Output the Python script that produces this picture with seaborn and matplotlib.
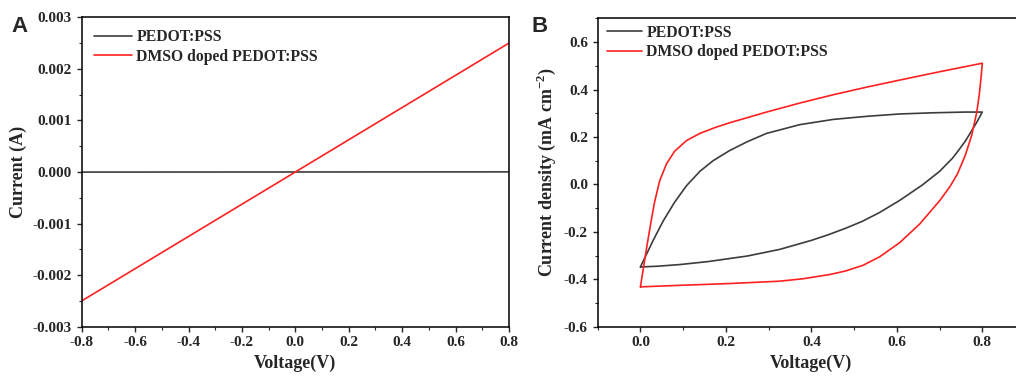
import numpy as np
import pandas as pd
import seaborn as sns
import matplotlib
matplotlib.use('Agg')
import matplotlib.pyplot as plt
from matplotlib.ticker import MultipleLocator, FormatStrFormatter

# Panel A: I-V curves
iv_voltage = [-0.8, -0.6, -0.4, -0.2, 0.0, 0.2, 0.4, 0.6, 0.8]
iv_pedot = [-0.000002, -0.0000015, -0.000001, -0.0000005, 0.0, 0.0000005, 0.000001, 0.0000015, 0.000002]
iv_dmso = [-0.0025, -0.001875, -0.00125, -0.000625, 0.0, 0.000625, 0.00125, 0.001875, 0.0025]

# Panel B: CV loops (forward branch then reverse branch)
cv_pedot_v = [0.0, 0.010, 0.030, 0.053, 0.080, 0.108, 0.139, 0.17, 0.209, 0.25, 0.295, 0.373, 0.451,
              0.529, 0.607, 0.685, 0.76, 0.80,
              0.787, 0.773, 0.76, 0.745, 0.73, 0.70, 0.66, 0.607, 0.56, 0.52, 0.48, 0.44, 0.40,
              0.326, 0.25, 0.16, 0.092, 0.04, 0.0]
cv_pedot_j = [-0.348, -0.31, -0.235, -0.155, -0.075, -0.005, 0.055, 0.10, 0.143, 0.18, 0.215, 0.252, 0.274,
              0.287, 0.297, 0.302, 0.305, 0.305,
              0.262, 0.22, 0.182, 0.145, 0.11, 0.055, -0.002, -0.067, -0.118, -0.155, -0.185, -0.212, -0.236,
              -0.274, -0.302, -0.325, -0.338, -0.345, -0.348]
cv_dmso_v = [0.0, 0.008, 0.016, 0.025, 0.033, 0.045, 0.061, 0.080, 0.108, 0.139, 0.175, 0.209, 0.295,
             0.373, 0.451, 0.529, 0.607, 0.70, 0.80,
             0.797, 0.793, 0.787, 0.775, 0.76, 0.742, 0.724, 0.701, 0.654, 0.607, 0.56, 0.521, 0.48,
             0.443, 0.38, 0.326, 0.209, 0.10, 0.0]
cv_dmso_j = [-0.432, -0.34, -0.25, -0.155, -0.075, 0.015, 0.087, 0.140, 0.185, 0.215, 0.24, 0.26, 0.305,
             0.343, 0.378, 0.41, 0.44, 0.475, 0.511,
             0.45, 0.38, 0.304, 0.206, 0.122, 0.045, -0.01, -0.067, -0.166, -0.245, -0.305, -0.341, -0.365,
             -0.38, -0.398, -0.408, -0.418, -0.425, -0.432]

labels = ['PEDOT:PSS', 'DMSO doped PEDOT:PSS']
colors = {'PEDOT:PSS': '#3c3c3c', 'DMSO doped PEDOT:PSS': '#ff2020'}

sns.set_style('ticks')
plt.rcParams['font.family'] = ['Liberation Serif', 'DejaVu Serif']
plt.rcParams['font.weight'] = 'bold'
plt.rcParams['axes.labelweight'] = 'bold'
plt.rcParams['axes.unicode_minus'] = False
plt.rcParams['mathtext.fontset'] = 'custom'
plt.rcParams['mathtext.rm'] = 'Liberation Serif:bold'
plt.rcParams['mathtext.bf'] = 'Liberation Serif:bold'

df_iv = pd.DataFrame({
    'V': iv_voltage + iv_voltage,
    'I': iv_pedot + iv_dmso,
    'sample': [labels[0]] * len(iv_voltage) + [labels[1]] * len(iv_voltage),
})
df_cv = pd.DataFrame({
    'V': cv_pedot_v + cv_dmso_v,
    'J': cv_pedot_j + cv_dmso_j,
    'sample': [labels[0]] * len(cv_pedot_v) + [labels[1]] * len(cv_dmso_v),
})

fig = plt.figure(figsize=(10.16, 3.76), dpi=100)
axA = fig.add_axes([0.0804, 0.1311, 0.4206, 0.823])
axB = fig.add_axes([0.5883, 0.1311, 0.4206, 0.820])

sns.lineplot(data=df_iv, x='V', y='I', hue='sample', palette=colors, sort=False,
             estimator=None, linewidth=1.2, ax=axA)
sns.lineplot(data=df_cv, x='V', y='J', hue='sample', palette=colors, sort=False,
             estimator=None, linewidth=1.2, ax=axB)

axA.set_xlim(-0.8, 0.8)
axA.set_ylim(-0.003, 0.003)
axA.xaxis.set_major_locator(MultipleLocator(0.2))
axA.xaxis.set_minor_locator(MultipleLocator(0.1))
axA.yaxis.set_major_locator(MultipleLocator(0.001))
axA.yaxis.set_minor_locator(MultipleLocator(0.0005))
axA.xaxis.set_major_formatter(FormatStrFormatter('%.1f'))
axA.yaxis.set_major_formatter(FormatStrFormatter('%.3f'))
axA.set_xlabel('Voltage(V)', fontsize=13)
axA.set_ylabel('Current (A)', fontsize=13)

axB.set_xlim(-0.1, 0.9)
axB.set_ylim(-0.6, 0.7)
axB.xaxis.set_major_locator(MultipleLocator(0.2))
axB.xaxis.set_minor_locator(MultipleLocator(0.1))
axB.yaxis.set_major_locator(MultipleLocator(0.2))
axB.yaxis.set_minor_locator(MultipleLocator(0.1))
axB.xaxis.set_major_formatter(FormatStrFormatter('%.1f'))
axB.yaxis.set_major_formatter(FormatStrFormatter('%.1f'))
axB.set_xlabel('Voltage(V)', fontsize=13)
axB.set_ylabel(r'Current density (mA cm$^{\mathbf{-2}}$)', fontsize=13)

for ax in (axA, axB):
    for s in ax.spines.values():
        s.set_visible(True)
        s.set_linewidth(1.1)
        s.set_color('black')
    ax.tick_params(which='major', direction='out', length=3.5, width=1.0, labelsize=11,
                   top=False, right=False)
    ax.tick_params(which='minor', direction='out', length=2, width=0.8, top=False, right=False)
    for t in ax.get_xticklabels() + ax.get_yticklabels():
        t.set_fontweight('bold')

axA.legend(loc='upper left', bbox_to_anchor=(0.029, 0.962), borderaxespad=0, borderpad=0,
           frameon=False, fontsize=11.3, handlelength=2.4, handletextpad=0.3, labelspacing=0.25)
axB.legend(loc='upper left', bbox_to_anchor=(0.022, 0.98), borderaxespad=0, borderpad=0,
           frameon=False, fontsize=11.3, handlelength=2.2, handletextpad=0.3, labelspacing=0.25)

fig.text(0.011, 0.915, 'A', fontsize=16, fontweight='bold', family='Liberation Sans')
fig.text(0.523, 0.915, 'B', fontsize=16, fontweight='bold', family='Liberation Sans')

fig.savefig('out.png', dpi=100)
